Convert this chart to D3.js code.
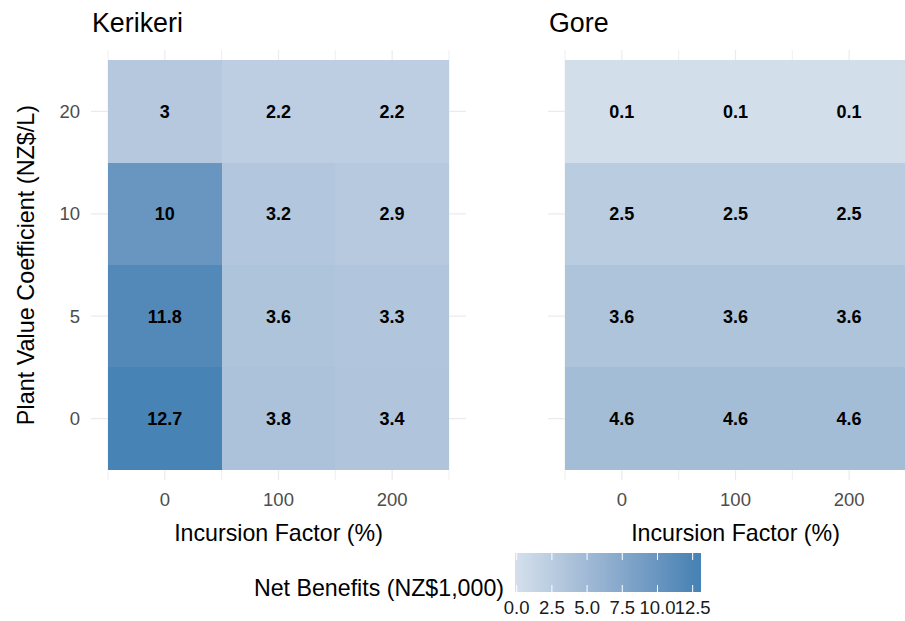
<!DOCTYPE html>
<html>
<head>
<meta charset="utf-8">
<script src="https://cdn.jsdelivr.net/npm/d3@7"></script>
<style>
  html, body { margin: 0; padding: 0; background: #fff; }
  svg { display: block; font-family: "Liberation Sans", Arial, Helvetica, sans-serif; }
</style>
</head>
<body>
<svg id="chart" width="905" height="621"></svg>
<script>
// Sites (facets), incursion factors (x), plant value coefficients (y)
const sites = ["Kerikeri", "Gore"];
const incursionFactors = [0, 100, 200];
const plantValues = ["20", "10", "5", "0"];

// Net benefits (NZ$1,000) per site: rows follow plantValues, columns follow incursionFactors
const kerikeriValues = [
  [3, 2.2, 2.2],
  [10, 3.2, 2.9],
  [11.8, 3.6, 3.3],
  [12.7, 3.8, 3.4]
];
const goreValues = [
  [0.1, 0.1, 0.1],
  [2.5, 2.5, 2.5],
  [3.6, 3.6, 3.6],
  [4.6, 4.6, 4.6]
];
const legendTicks = [0, 2.5, 5, 7.5, 10, 12.5];

const siteValues = { Kerikeri: kerikeriValues, Gore: goreValues };

const svg = d3.select("#chart");

const panelTop = 50, panelBottom = 480;
const panelLefts = [91, 548];
const panelWidth = 375;

const fill = d3.scaleLinear()
  .domain([0, 12.8])
  .range(["#d4dfeb", "#4682b4"])
  .interpolate(d3.interpolateLab);

const y = d3.scaleBand()
  .domain(plantValues)
  .range([panelTop, panelBottom])
  .paddingInner(0)
  .paddingOuter(0.1);

const gridColor = "#ebebeb";
const tickColor = "#4d4d4d";

sites.forEach((site, si) => {
  const left = panelLefts[si];
  const x = d3.scaleLinear().domain([-65, 265]).range([left, left + panelWidth]);
  const tileW = x(100) - x(0);
  const g = svg.append("g");

  // minor + major vertical grid lines
  const minor = [-50, 50, 150, 250];
  g.selectAll("line.vminor").data(minor).enter().append("line")
    .attr("x1", d => x(d)).attr("x2", d => x(d))
    .attr("y1", panelTop).attr("y2", panelBottom)
    .attr("stroke", gridColor).attr("stroke-width", 0.8);
  g.selectAll("line.vmajor").data(incursionFactors).enter().append("line")
    .attr("x1", d => x(d)).attr("x2", d => x(d))
    .attr("y1", panelTop).attr("y2", panelBottom)
    .attr("stroke", gridColor).attr("stroke-width", 1.2);
  // horizontal grid lines
  g.selectAll("line.h").data(plantValues).enter().append("line")
    .attr("x1", left).attr("x2", left + panelWidth)
    .attr("y1", d => y(d) + y.bandwidth() / 2).attr("y2", d => y(d) + y.bandwidth() / 2)
    .attr("stroke", gridColor).attr("stroke-width", 1.2);

  const cells = [];
  siteValues[site].forEach((row, ri) => {
    row.forEach((v, ci) => cells.push({ pv: plantValues[ri], inc: incursionFactors[ci], v }));
  });

  g.selectAll("rect.tile").data(cells).enter().append("rect")
    .attr("x", d => x(d.inc - 50))
    .attr("y", d => y(d.pv))
    .attr("width", tileW)
    .attr("height", y.bandwidth())
    .attr("shape-rendering", "crispEdges")
    .attr("fill", d => fill(d.v));

  g.selectAll("text.val").data(cells).enter().append("text")
    .attr("x", d => x(d.inc))
    .attr("y", d => y(d.pv) + y.bandwidth() / 2)
    .attr("dy", "0.36em")
    .attr("text-anchor", "middle")
    .attr("font-weight", "bold")
    .attr("font-size", 18)
    .attr("fill", "#000")
    .text(d => d3.format("")(d.v));

  // facet title
  g.append("text")
    .attr("x", left + 1).attr("y", 32)
    .attr("font-size", 26.8).attr("fill", "#000")
    .text(site);

  // x tick labels
  g.selectAll("text.xt").data(incursionFactors).enter().append("text")
    .attr("x", d => x(d)).attr("y", 506)
    .attr("text-anchor", "middle")
    .attr("font-size", 18.5).attr("fill", tickColor)
    .text(d => d);

  // x axis title
  g.append("text")
    .attr("x", left + panelWidth / 2).attr("y", 541)
    .attr("text-anchor", "middle")
    .attr("font-size", 23.2).attr("fill", "#000")
    .text("Incursion Factor (%)");

  // y tick labels only on the first panel
  if (si === 0) {
    g.selectAll("text.yt").data(plantValues).enter().append("text")
      .attr("x", left - 11)
      .attr("y", d => y(d) + y.bandwidth() / 2)
      .attr("dy", "0.36em")
      .attr("text-anchor", "end")
      .attr("font-size", 18.5).attr("fill", tickColor)
      .text(d => d);
  }
});

// y axis title
svg.append("text")
  .attr("transform", `translate(34,${(panelTop + panelBottom) / 2}) rotate(-90)`)
  .attr("text-anchor", "middle")
  .attr("font-size", 23.4).attr("fill", "#000")
  .text("Plant Value Coefficient (NZ$/L)");

// colour bar legend
const barTop = 553, barH = 39;
const lx = d3.scaleLinear().domain([0, 13]).range([516.7, 699.7]);
const barX0 = lx(-0.12), barX1 = lx(13.09);
const defs = svg.append("defs");
const grad = defs.append("linearGradient").attr("id", "fillgrad")
  .attr("x1", "0%").attr("x2", "100%").attr("y1", "0%").attr("y2", "0%");
d3.range(0, 1.0001, 0.05).forEach(t => {
  const v = lx.invert(barX0 + t * (barX1 - barX0));
  grad.append("stop").attr("offset", `${t * 100}%`).attr("stop-color", fill(Math.max(0, Math.min(12.8, v))));
});
const lg = svg.append("g");
lg.append("rect")
  .attr("x", barX0).attr("y", barTop)
  .attr("width", barX1 - barX0).attr("height", barH)
  .attr("fill", "url(#fillgrad)");
lg.selectAll("line.tt").data(legendTicks).enter().append("line")
  .attr("x1", d => lx(d)).attr("x2", d => lx(d))
  .attr("y1", barTop).attr("y2", barTop + 7)
  .attr("stroke", "#fff").attr("stroke-width", 1);
lg.selectAll("line.tb").data(legendTicks).enter().append("line")
  .attr("x1", d => lx(d)).attr("x2", d => lx(d))
  .attr("y1", barTop + barH - 7).attr("y2", barTop + barH)
  .attr("stroke", "#fff").attr("stroke-width", 1);
lg.selectAll("text.lt").data(legendTicks).enter().append("text")
  .attr("x", d => lx(d)).attr("y", 614)
  .attr("text-anchor", "middle")
  .attr("font-size", 18.5).attr("fill", "#1a1a1a")
  .text(d => d3.format(".1f")(d));
lg.append("text")
  .attr("x", 504).attr("y", 596)
  .attr("text-anchor", "end")
  .attr("font-size", 23.2).attr("fill", "#000")
  .text("Net Benefits (NZ$1,000)");
</script>
</body>
</html>
